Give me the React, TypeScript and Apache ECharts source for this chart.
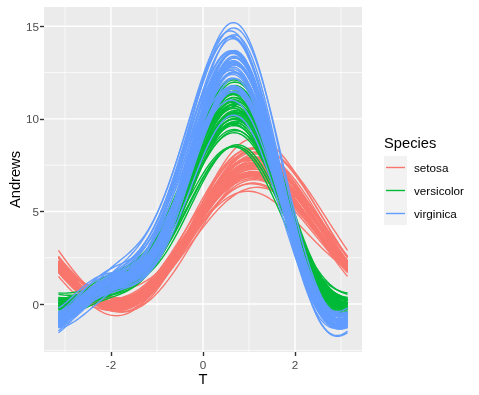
import React, { useEffect, useRef } from "react";
import * as echarts from "echarts";

// Edgar Anderson's iris measurements (cm), one array per species and variable.
const setosaSepalLength = [5.1, 4.9, 4.7, 4.6, 5.0, 5.4, 4.6, 5.0, 4.4, 4.9, 5.4, 4.8, 4.8, 4.3, 5.8, 5.7, 5.4, 5.1, 5.7, 5.1, 5.4, 5.1, 4.6, 5.1, 4.8, 5.0, 5.0, 5.2, 5.2, 4.7, 4.8, 5.4, 5.2, 5.5, 4.9, 5.0, 5.5, 4.9, 4.4, 5.1, 5.0, 4.5, 4.4, 5.0, 5.1, 4.8, 5.1, 4.6, 5.3, 5.0];
const setosaSepalWidth = [3.5, 3.0, 3.2, 3.1, 3.6, 3.9, 3.4, 3.4, 2.9, 3.1, 3.7, 3.4, 3.0, 3.0, 4.0, 4.4, 3.9, 3.5, 3.8, 3.8, 3.4, 3.7, 3.6, 3.3, 3.4, 3.0, 3.4, 3.5, 3.4, 3.2, 3.1, 3.4, 4.1, 4.2, 3.1, 3.2, 3.5, 3.6, 3.0, 3.4, 3.5, 2.3, 3.2, 3.5, 3.8, 3.0, 3.8, 3.2, 3.7, 3.3];
const setosaPetalLength = [1.4, 1.4, 1.3, 1.5, 1.4, 1.7, 1.4, 1.5, 1.4, 1.5, 1.5, 1.6, 1.4, 1.1, 1.2, 1.5, 1.3, 1.4, 1.7, 1.5, 1.7, 1.5, 1.0, 1.7, 1.9, 1.6, 1.6, 1.5, 1.4, 1.6, 1.6, 1.5, 1.5, 1.4, 1.5, 1.2, 1.3, 1.4, 1.3, 1.5, 1.3, 1.3, 1.3, 1.6, 1.9, 1.4, 1.6, 1.4, 1.5, 1.4];
const setosaPetalWidth = [0.2, 0.2, 0.2, 0.2, 0.2, 0.4, 0.3, 0.2, 0.2, 0.1, 0.2, 0.2, 0.1, 0.1, 0.2, 0.4, 0.4, 0.3, 0.3, 0.3, 0.2, 0.4, 0.2, 0.5, 0.2, 0.2, 0.4, 0.2, 0.2, 0.2, 0.2, 0.4, 0.1, 0.2, 0.2, 0.2, 0.2, 0.1, 0.2, 0.2, 0.3, 0.3, 0.2, 0.6, 0.4, 0.3, 0.2, 0.2, 0.2, 0.2];

const versicolorSepalLength = [7.0, 6.4, 6.9, 5.5, 6.5, 5.7, 6.3, 4.9, 6.6, 5.2, 5.0, 5.9, 6.0, 6.1, 5.6, 6.7, 5.6, 5.8, 6.2, 5.6, 5.9, 6.1, 6.3, 6.1, 6.4, 6.6, 6.8, 6.7, 6.0, 5.7, 5.5, 5.5, 5.8, 6.0, 5.4, 6.0, 6.7, 6.3, 5.6, 5.5, 5.5, 6.1, 5.8, 5.0, 5.6, 5.7, 5.7, 6.2, 5.1, 5.7];
const versicolorSepalWidth = [3.2, 3.2, 3.1, 2.3, 2.8, 2.8, 3.3, 2.4, 2.9, 2.7, 2.0, 3.0, 2.2, 2.9, 2.9, 3.1, 3.0, 2.7, 2.2, 2.5, 3.2, 2.8, 2.5, 2.8, 2.9, 3.0, 2.8, 3.0, 2.9, 2.6, 2.4, 2.4, 2.7, 2.7, 3.0, 3.4, 3.1, 2.3, 3.0, 2.5, 2.6, 3.0, 2.6, 2.3, 2.7, 3.0, 2.9, 2.9, 2.5, 2.8];
const versicolorPetalLength = [4.7, 4.5, 4.9, 4.0, 4.6, 4.5, 4.7, 3.3, 4.6, 3.9, 3.5, 4.2, 4.0, 4.7, 3.6, 4.4, 4.5, 4.1, 4.5, 3.9, 4.8, 4.0, 4.9, 4.7, 4.3, 4.4, 4.8, 5.0, 4.5, 3.5, 3.8, 3.7, 3.9, 5.1, 4.5, 4.5, 4.7, 4.4, 4.1, 4.0, 4.4, 4.6, 4.0, 3.3, 4.2, 4.2, 4.2, 4.3, 3.0, 4.1];
const versicolorPetalWidth = [1.4, 1.5, 1.5, 1.3, 1.5, 1.3, 1.6, 1.0, 1.3, 1.4, 1.0, 1.5, 1.0, 1.4, 1.3, 1.4, 1.5, 1.0, 1.5, 1.1, 1.8, 1.3, 1.5, 1.2, 1.3, 1.4, 1.4, 1.7, 1.5, 1.0, 1.1, 1.0, 1.2, 1.6, 1.5, 1.6, 1.5, 1.3, 1.3, 1.3, 1.2, 1.4, 1.2, 1.0, 1.3, 1.2, 1.3, 1.3, 1.1, 1.3];

const virginicaSepalLength = [6.3, 5.8, 7.1, 6.3, 6.5, 7.6, 4.9, 7.3, 6.7, 7.2, 6.5, 6.4, 6.8, 5.7, 5.8, 6.4, 6.5, 7.7, 7.7, 6.0, 6.9, 5.6, 7.7, 6.3, 6.7, 7.2, 6.2, 6.1, 6.4, 7.2, 7.4, 7.9, 6.4, 6.3, 6.1, 7.7, 6.3, 6.4, 6.0, 6.9, 6.7, 6.9, 5.8, 6.8, 6.7, 6.7, 6.3, 6.5, 6.2, 5.9];
const virginicaSepalWidth = [3.3, 2.7, 3.0, 2.9, 3.0, 3.0, 2.5, 2.9, 2.5, 3.6, 3.2, 2.7, 3.0, 2.5, 2.8, 3.2, 3.0, 3.8, 2.6, 2.2, 3.2, 2.8, 2.8, 2.7, 3.3, 3.2, 2.8, 3.0, 2.8, 3.0, 2.8, 3.8, 2.8, 2.8, 2.6, 3.0, 3.4, 3.1, 3.0, 3.1, 3.1, 3.1, 2.7, 3.2, 3.3, 3.0, 2.5, 3.0, 3.4, 3.0];
const virginicaPetalLength = [6.0, 5.1, 5.9, 5.6, 5.8, 6.6, 4.5, 6.3, 5.8, 6.1, 5.1, 5.3, 5.5, 5.0, 5.1, 5.3, 5.5, 6.7, 6.9, 5.0, 5.7, 4.9, 6.7, 4.9, 5.7, 6.0, 4.8, 4.9, 5.6, 5.8, 6.1, 6.4, 5.6, 5.1, 5.6, 6.1, 5.6, 5.5, 4.8, 5.4, 5.6, 5.1, 5.1, 5.9, 5.7, 5.2, 5.0, 5.2, 5.4, 5.1];
const virginicaPetalWidth = [2.5, 1.9, 2.1, 1.8, 2.2, 2.1, 1.7, 1.8, 1.8, 2.5, 2.0, 1.9, 2.1, 2.0, 2.4, 2.3, 1.8, 2.2, 2.3, 1.5, 2.3, 2.0, 2.0, 1.8, 2.1, 1.8, 1.8, 1.8, 2.1, 1.6, 1.9, 2.0, 2.2, 1.5, 1.4, 2.3, 2.4, 1.8, 1.8, 2.1, 2.4, 2.3, 1.9, 2.3, 2.5, 2.3, 1.9, 2.0, 2.3, 1.8];

const speciesNames = ["setosa", "versicolor", "virginica"];
const speciesColors = ["#F8766D", "#00BA38", "#619CFF"];

const xTicks = [-2, 0, 2];
const yTicks = [0, 5, 10, 15];

// Number of samples of t across [-pi, pi] for each curve.
const T_STEPS = 101;

type Group = {
  name: string;
  color: string;
  cols: number[][];
};

const groups: Group[] = [
  {
    name: speciesNames[0],
    color: speciesColors[0],
    cols: [setosaSepalLength, setosaSepalWidth, setosaPetalLength, setosaPetalWidth],
  },
  {
    name: speciesNames[1],
    color: speciesColors[1],
    cols: [versicolorSepalLength, versicolorSepalWidth, versicolorPetalLength, versicolorPetalWidth],
  },
  {
    name: speciesNames[2],
    color: speciesColors[2],
    cols: [virginicaSepalLength, virginicaSepalWidth, virginicaPetalLength, virginicaPetalWidth],
  },
];

// Andrews curve: f(t) = x1/sqrt(2) + x2 sin t + x3 cos t + x4 sin 2t
function andrews(x: number[], t: number): number {
  return x[0] / Math.SQRT2 + x[1] * Math.sin(t) + x[2] * Math.cos(t) + x[3] * Math.sin(2 * t);
}

function buildCurves(g: Group): number[][][] {
  const n = g.cols[0].length;
  const out: number[][][] = [];
  for (let i = 0; i < n; i++) {
    const row = g.cols.map((c) => c[i]);
    const pts: number[][] = [];
    for (let k = 0; k < T_STEPS; k++) {
      const t = -Math.PI + (2 * Math.PI * k) / (T_STEPS - 1);
      pts.push([t, andrews(row, t)]);
    }
    out.push(pts);
  }
  return out;
}

export default function App() {
  const ref = useRef<HTMLDivElement>(null);

  useEffect(() => {
    if (!ref.current) return;
    const chart = echarts.init(ref.current, undefined, { renderer: "svg" });
    const font = "'Liberation Sans', Arial, Helvetica, sans-serif";

    const curves = groups.map(buildCurves);
    let yLo = Infinity;
    let yHi = -Infinity;
    curves.forEach((cs) =>
      cs.forEach((pts) =>
        pts.forEach((p) => {
          if (p[1] < yLo) yLo = p[1];
          if (p[1] > yHi) yHi = p[1];
        })
      )
    );
    const yPad = (yHi - yLo) * 0.05;
    const yMin = yLo - yPad;
    const yMax = yHi + yPad;
    const xMin = -Math.PI * 1.1;
    const xMax = Math.PI * 1.1;

    // panel grid lines: [orientation (0 vertical, 1 horizontal), value, major?]
    const gridLines: number[][] = [];
    for (let v = -3; v <= 3; v += 1) {
      if (v > xMin && v < xMax) gridLines.push([0, v, v % 2 === 0 ? 1 : 0]);
    }
    for (let v = -2.5; v <= 17.5; v += 2.5) {
      if (v > yMin && v < yMax) gridLines.push([1, v, v % 5 === 0 ? 1 : 0]);
    }

    const lineSeries: any[] = [];
    groups.forEach((g, gi) => {
      curves[gi].forEach((pts) => {
        lineSeries.push({
          type: "line",
          name: g.name,
          data: pts,
          showSymbol: false,
          symbol: "none",
          silent: true,
          z: 3,
          lineStyle: { color: g.color, width: 1.4 },
          itemStyle: { color: g.color },
        });
      });
    });

    const legendX = 384;
    const keyTop = 156;
    const keySize = 23;

    const legendGraphics: any[] = [
      {
        type: "text",
        left: legendX,
        top: 135,
        style: { text: "Species", font: `14.7px ${font}`, fill: "#000000" },
      },
      {
        type: "rect",
        shape: { x: legendX, y: keyTop, width: keySize, height: keySize * 3 },
        style: { fill: "#F2F2F2" },
      },
    ];
    groups.forEach((g, i) => {
      const cy = keyTop + keySize * i + keySize / 2;
      legendGraphics.push({
        type: "line",
        shape: { x1: legendX + 2, y1: cy, x2: legendX + keySize - 2, y2: cy },
        style: { stroke: g.color, lineWidth: 1.4 },
      });
      legendGraphics.push({
        type: "text",
        x: legendX + keySize + 7,
        y: cy,
        style: {
          text: g.name,
          font: `11.7px ${font}`,
          fill: "#000000",
          verticalAlign: "middle",
          align: "left",
        },
      });
    });

    const axisCommon = {
      type: "value",
      nameLocation: "middle",
      nameMoveOverlap: false,
      nameTextStyle: { fontSize: 14.7, color: "#000000", fontFamily: font },
      axisLine: { show: false, onZero: false },
      splitLine: { show: false },
    };

    chart.setOption({
      animation: false,
      textStyle: { fontFamily: font },
      grid: {
        left: 44,
        top: 7,
        right: 117,
        bottom: 43,
        show: true,
        backgroundColor: "#EBEBEB",
        borderWidth: 0,
        containLabel: false,
        outerBoundsMode: "none",
      },
      xAxis: {
        ...axisCommon,
        min: xMin,
        max: xMax,
        name: "T",
        nameGap: 19,
        axisTick: {
          show: true,
          length: 4,
          customValues: xTicks,
          lineStyle: { color: "#333333", width: 1.4 },
        },
        axisLabel: {
          customValues: xTicks,
          color: "#4D4D4D",
          fontSize: 11.7,
          margin: 6,
          fontFamily: font,
        },
      },
      yAxis: {
        ...axisCommon,
        min: yMin,
        max: yMax,
        name: "Andrews",
        nameGap: 22,
        nameRotate: 90,
        axisTick: {
          show: true,
          length: 4,
          customValues: yTicks,
          lineStyle: { color: "#333333", width: 1.4 },
        },
        axisLabel: {
          customValues: yTicks,
          color: "#4D4D4D",
          fontSize: 11.7,
          margin: 5,
          fontFamily: font,
        },
      },
      graphic: legendGraphics,
      series: [
        {
          type: "custom",
          silent: true,
          z: 1,
          data: gridLines,
          renderItem: (_params: any, api: any) => {
            const horizontal = api.value(0) === 1;
            const v = api.value(1);
            const w = api.value(2) ? 1.4 : 0.7;
            const a = horizontal ? api.coord([xMin, v]) : api.coord([v, yMin]);
            const b = horizontal ? api.coord([xMax, v]) : api.coord([v, yMax]);
            return {
              type: "line",
              shape: { x1: a[0], y1: a[1], x2: b[0], y2: b[1] },
              style: { stroke: "#FFFFFF", lineWidth: w },
            };
          },
        },
        ...lineSeries,
      ],
    });

    return () => chart.dispose();
  }, []);

  return (
    <div
      ref={ref}
      style={{ position: "fixed", left: 0, top: 0, width: 479, height: 395 }}
    />
  );
}
